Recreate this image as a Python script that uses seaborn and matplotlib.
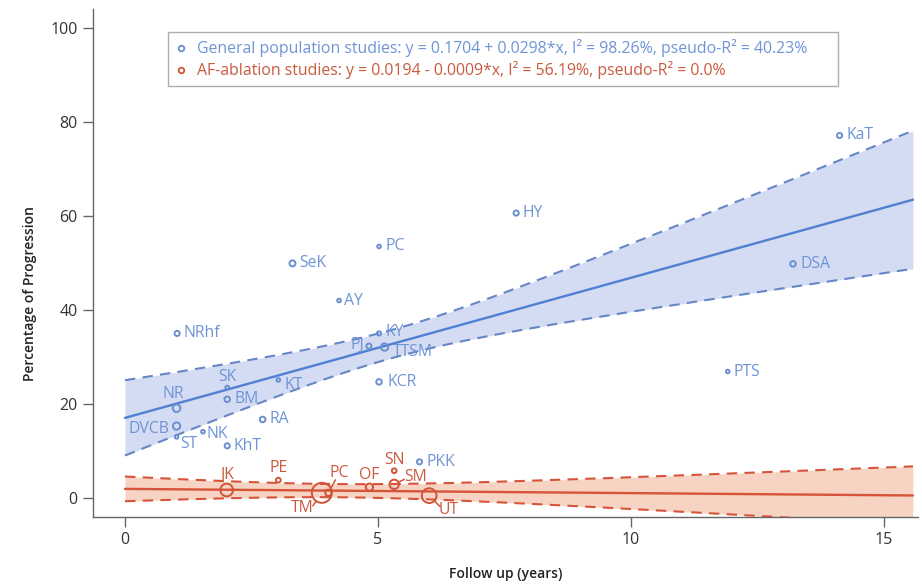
import numpy as np
import pandas as pd
import matplotlib
matplotlib.use("Agg")
import matplotlib.pyplot as plt
import seaborn as sns
from matplotlib.lines import Line2D

# ---------------- data ----------------
gp_labels = ["KaT", "HY", "PC", "SeK", "DSA", "AY", "NRhf", "KY", "PJ", "TTSM", "PTS",
             "KCR", "SK", "KT", "NR", "BM", "RA", "DVCB", "NK", "ST", "KhT", "PKK"]
gp_followup = [14.12, 7.73, 5.02, 3.31, 13.20, 4.23, 1.03, 5.02, 4.82, 5.13, 11.91,
               5.02, 2.02, 3.03, 1.02, 2.02, 2.72, 1.02, 1.54, 1.02, 2.02, 5.82]
gp_progression = [77.1, 60.6, 53.5, 49.9, 49.8, 42.0, 35.0, 35.0, 32.3, 32.1, 26.9,
                  24.7, 23.5, 25.1, 19.1, 21.0, 16.7, 15.3, 14.1, 13.0, 11.1, 7.7]
gp_weight = [6, 6, 3, 8, 7, 3, 6, 4, 6, 12, 3,
             7, 3, 3, 13, 7, 7, 12, 3, 3, 6, 6]

af_labels = ["JK", "PE", "TM", "PC", "OF", "SN", "SM", "UT"]
af_followup = [2.01, 3.03, 3.89, 4.02, 4.83, 5.32, 5.32, 6.01]
af_progression = [1.7, 3.8, 1.1, 1.1, 2.3, 5.8, 2.9, 0.5]
af_weight = [36, 5, 90, 9, 12, 5, 20, 49]

# meta-regression fits (percent scale) and confidence-band shape
gp_intercept, gp_slope = 17.04, 2.98
af_intercept, af_slope = 1.94, -0.09
gp_ci_center, gp_ci_min, gp_ci_growth = 5.3, 3.0, 1.40
af_ci_center, af_ci_min, af_ci_growth = 4.2, 1.4, 0.53
fit_xmax = 15.57

legend_gp = "General population studies: y = 0.1704 + 0.0298*x, I\u00b2 = 98.26%, pseudo-R\u00b2 = 40.23%"
legend_af = "AF-ablation studies: y = 0.0194 - 0.0009*x, I\u00b2 = 56.19%, pseudo-R\u00b2 = 0.0%"
x_ticks = [0, 5, 10, 15]
y_ticks = [0, 20, 40, 60, 80, 100]
x_title = "Follow up (years)"
y_title = "Percentage of Progression"

# ---------------- style ----------------
BLUE_LINE = "#4f80d2"
BLUE_PT = "#6a8fd0"
BLUE_TXT = "#6f94d6"
BLUE_FILL = "#cdd6f2"
BLUE_DASH = "#6786c6"
RED_LINE = "#d6543a"
RED_PT = "#cf5438"
RED_TXT = "#c95a3f"
RED_FILL = "#f5ccb8"
AXIS_C = "#666666"

sns.set_style("ticks")
plt.rcParams["font.family"] = ["Open Sans", "DejaVu Sans"]

W, H = 922, 586
fig = plt.figure(figsize=(W / 100, H / 100), dpi=100)
ax_l, ax_r, ax_t, ax_b = 93, 918, 9, 517
ax = fig.add_axes([ax_l / W, 1 - ax_b / H, (ax_r - ax_l) / W, (ax_b - ax_t) / H])

ax.set_xlim(-0.632, 15.67)
ax.set_ylim(-4.04, 104.0)

SIZE_NORM = (0, 100)
SIZES = (0, 230)


def size_pt2(w):
    return SIZES[0] + (w - SIZE_NORM[0]) / (SIZE_NORM[1] - SIZE_NORM[0]) * (SIZES[1] - SIZES[0])


# ---------------- fits + bands ----------------
xg = np.linspace(0, fit_xmax, 300)
for b0, b1, c, mn, gr, fillc, linec, dashc in [
    (gp_intercept, gp_slope, gp_ci_center, gp_ci_min, gp_ci_growth, BLUE_FILL, BLUE_LINE, BLUE_DASH),
    (af_intercept, af_slope, af_ci_center, af_ci_min, af_ci_growth, RED_FILL, RED_LINE, RED_LINE),
]:
    fit = b0 + b1 * xg
    hw = np.sqrt(mn ** 2 + (gr * (xg - c)) ** 2)
    ax.fill_between(xg, fit - hw, fit + hw, color=fillc, alpha=0.85, lw=0, zorder=1)
    sns.lineplot(x=xg, y=fit, color=linec, lw=1.7, ax=ax, zorder=3)
    ax.plot(xg, fit + hw, color=dashc, lw=1.5, ls=(0, (5, 3.5)), zorder=3)
    ax.plot(xg, fit - hw, color=dashc, lw=1.5, ls=(0, (5, 3.5)), zorder=3)

# ---------------- points ----------------
gp_df = pd.DataFrame({"x": gp_followup, "y": gp_progression, "w": gp_weight, "lab": gp_labels})
af_df = pd.DataFrame({"x": af_followup, "y": af_progression, "w": af_weight, "lab": af_labels})

for df, col in [(gp_df, BLUE_PT), (af_df, RED_PT)]:
    sns.scatterplot(data=df, x="x", y="y", size="w", sizes=SIZES, size_norm=SIZE_NORM,
                    facecolor="none", edgecolor=col, linewidth=1.4, legend=False, ax=ax, zorder=4)

# ---------------- labels (offsets in pixels: dx right, dy up) ----------------
label_layout_gp = {
    "KaT": (7, 0, "left"), "HY": (6, 0, "left"), "PC": (6, 0, "left"), "SeK": (7, 0, "left"),
    "DSA": (7, 0, "left"), "AY": (5, 0, "left"), "NRhf": (6, 0, "left"), "KY": (6, 1, "left"),
    "PJ": (-5, 1, "right"), "TTSM": (8, -5, "left"), "PTS": (6, 0, "left"), "KCR": (8, 0, "left"),
    "SK": (0, 11, "center"), "KT": (6, -5, "left"), "NR": (-3, 14, "center"), "BM": (7, 0, "left"),
    "RA": (7, 0, "left"), "DVCB": (-7, -3, "right"), "NK": (4, -2, "left"), "ST": (4, -7, "left"),
    "KhT": (6, 0, "left"), "PKK": (7, 0, "left"),
}
# text offset (dx, dy), alignment, leader-line end offset (or None)
label_layout_af = {
    "JK": (0, 15, "center", None), "PE": (0, 12, "center", None),
    "TM": (-20, -15, "center", (-9, -13)), "PC": (11, 20, "center", (7, 13)),
    "OF": (0, 12, "center", None), "SN": (0, 11, "center", None),
    "SM": (21, 7, "center", (10, 5)), "UT": (20, -14, "center", (11, -11)),
}
PX = 0.72  # points per pixel
LAB_FS = 11.3

for lab, x, y in zip(gp_labels, gp_followup, gp_progression):
    dx, dy, ha = label_layout_gp[lab]
    ax.annotate(lab, (x, y), xytext=(dx * PX, dy * PX), textcoords="offset points",
                ha=ha, va="center", color=BLUE_TXT, fontsize=LAB_FS, zorder=5)

for lab, x, y, w in zip(af_labels, af_followup, af_progression, af_weight):
    dx, dy, ha, leader = label_layout_af[lab]
    ax.annotate(lab, (x, y), xytext=(dx * PX, dy * PX), textcoords="offset points",
                ha=ha, va="center", color=RED_TXT, fontsize=LAB_FS, zorder=5)
    if leader is not None:
        ex, ey = leader
        ax.annotate("", (x, y), xytext=(ex * PX, ey * PX), textcoords="offset points",
                    arrowprops=dict(arrowstyle="-", color=RED_PT, lw=1.1, shrinkA=0,
                                    shrinkB=np.sqrt(size_pt2(w)) / 2 + 0.3), zorder=5)

# ---------------- axes ----------------
ax.set_xticks(x_ticks)
ax.set_yticks(y_ticks)
ax.tick_params(axis="both", length=7, width=1.0, color=AXIS_C, labelsize=11.5,
               labelcolor="#333333", pad=4)
for side in ["top", "right"]:
    ax.spines[side].set_visible(False)
for side in ["left", "bottom"]:
    ax.spines[side].set_color(AXIS_C)
    ax.spines[side].set_linewidth(1.0)

ax.set_xlabel(x_title, fontsize=10, fontweight="semibold", color="#222222")
ax.set_ylabel(y_title, fontsize=10, fontweight="semibold", color="#222222")
ax.xaxis.set_label_coords(0.5, -0.098)
ax.yaxis.set_label_coords(-0.068, 0.44)

# ---------------- legend ----------------
handles = [
    Line2D([], [], marker="o", ls="none", markerfacecolor="none", markeredgecolor=BLUE_PT,
           markersize=4, markeredgewidth=1.3),
    Line2D([], [], marker="o", ls="none", markerfacecolor="none", markeredgecolor=RED_PT,
           markersize=4, markeredgewidth=1.3),
]
leg = ax.legend(handles, [legend_gp, legend_af], loc="upper left",
                bbox_to_anchor=(0.0909, 0.9547 - 0.102, 0.812, 0.102), mode="expand",
                borderaxespad=0, fontsize=11.4, frameon=True, fancybox=False,
                handlelength=0.8, handletextpad=0.6, labelspacing=0.25, borderpad=0.45)
leg.get_frame().set_edgecolor("#9a9a9a")
leg.get_frame().set_linewidth(1.0)
for t, c in zip(leg.get_texts(), [BLUE_TXT, RED_TXT]):
    t.set_color(c)

fig.savefig("out.png", dpi=100)
